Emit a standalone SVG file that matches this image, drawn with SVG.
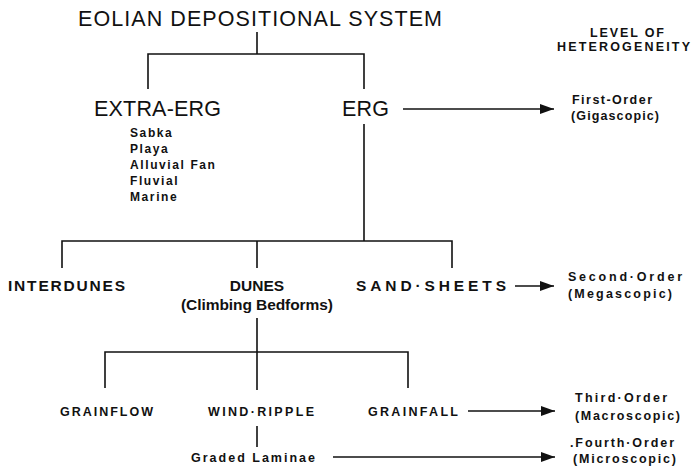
<svg xmlns="http://www.w3.org/2000/svg" width="692" height="466" viewBox="0 0 692 466">
<style>
text{font-family:"Liberation Sans",Arial,sans-serif;fill:#111}
.big{font-size:21.5px}
.mid{font-size:15.5px;font-weight:bold}
.sm{font-size:12.5px;font-weight:bold}
.xs{font-size:12px;font-weight:bold;letter-spacing:1.6px}
.ln{stroke:#111;stroke-width:1.6;fill:none}
</style>
<defs>
<marker id="ah" markerWidth="14" markerHeight="10" refX="14" refY="5" orient="auto" markerUnits="userSpaceOnUse">
<path d="M0,0 L14,5 L0,10 Z" fill="#111"/>
</marker>
</defs>
<rect width="692" height="466" fill="#fff"/>
<g id="connectors">
<path class="ln" d="M257,32 V54 M148,89 V54 H364 V89"/>
<path class="ln" d="M364,124 V241 M62,268 V241 H452 V268 M257,241 V268"/>
<path class="ln" d="M257,318 V352 M105,388 V352 H408 V388 M257,352 V390"/>
<path class="ln" d="M257,426 V447"/>
<path class="ln" d="M403,109 H554" marker-end="url(#ah)"/>
<path class="ln" d="M515,286 H554" marker-end="url(#ah)"/>
<path class="ln" d="M468,411 H555" marker-end="url(#ah)"/>
<path class="ln" d="M333,457 H555" marker-end="url(#ah)"/>
</g>
<g id="title"><text class="big" x="78" y="26" textLength="364" lengthAdjust="spacing">EOLIAN DEPOSITIONAL SYSTEM</text></g>
<g id="level-header">
<text class="sm" x="590" y="37" textLength="74" lengthAdjust="spacing">LEVEL OF</text>
<text class="sm" x="557" y="51" textLength="133" lengthAdjust="spacing">HETEROGENEITY</text>
</g>
<g id="extra-erg">
<text class="big" x="94" y="116" textLength="127" lengthAdjust="spacing">EXTRA-ERG</text>
<text class="xs" x="130" y="137">Sabka</text>
<text class="xs" x="130" y="153">Playa</text>
<text class="xs" x="130" y="169">Alluvial  Fan</text>
<text class="xs" x="130" y="185">Fluvial</text>
<text class="xs" x="130" y="201">Marine</text>
</g>
<g id="erg"><text class="big" x="342" y="116" textLength="47" lengthAdjust="spacing">ERG</text></g>
<g id="first-order">
<text class="sm" x="572" y="104" textLength="80" lengthAdjust="spacing">First-Order</text>
<text class="sm" x="571" y="120" textLength="88" lengthAdjust="spacing">(Gigascopic)</text>
</g>
<g id="interdunes"><text class="mid" x="8" y="291" textLength="117" lengthAdjust="spacing">INTERDUNES</text></g>
<g id="dunes">
<text class="mid" x="257" y="291" text-anchor="middle">DUNES</text>
<text class="mid" x="181" y="310" textLength="152" lengthAdjust="spacing">(Climbing Bedforms)</text>
</g>
<g id="sand-sheets"><text class="mid" x="356" y="291" textLength="150" lengthAdjust="spacing">SAND·SHEETS</text></g>
<g id="second-order">
<text class="sm" x="568" y="281" textLength="114" lengthAdjust="spacing">Second·Order</text>
<text class="sm" x="568" y="298" textLength="104" lengthAdjust="spacing">(Megascopic)</text>
</g>
<g id="grainflow"><text class="sm" x="60" y="416" textLength="93" lengthAdjust="spacing">GRAINFLOW</text></g>
<g id="wind-ripple"><text class="sm" x="208" y="416" textLength="106" lengthAdjust="spacing">WIND·RIPPLE</text></g>
<g id="grainfall"><text class="sm" x="368" y="416" textLength="90" lengthAdjust="spacing">GRAINFALL</text></g>
<g id="third-order">
<text class="sm" x="575" y="402" textLength="92" lengthAdjust="spacing">Third·Order</text>
<text class="sm" x="575" y="420" textLength="105" lengthAdjust="spacing">(Macroscopic)</text>
</g>
<g id="graded-laminae"><text class="sm" x="191" y="462" textLength="124" lengthAdjust="spacing">Graded  Laminae</text></g>
<g id="fourth-order">
<text class="sm" x="570" y="447" textLength="104" lengthAdjust="spacing">.Fourth·Order</text>
<text class="sm" x="573" y="463" textLength="103" lengthAdjust="spacing">(Microscopic)</text>
</g>
</svg>
